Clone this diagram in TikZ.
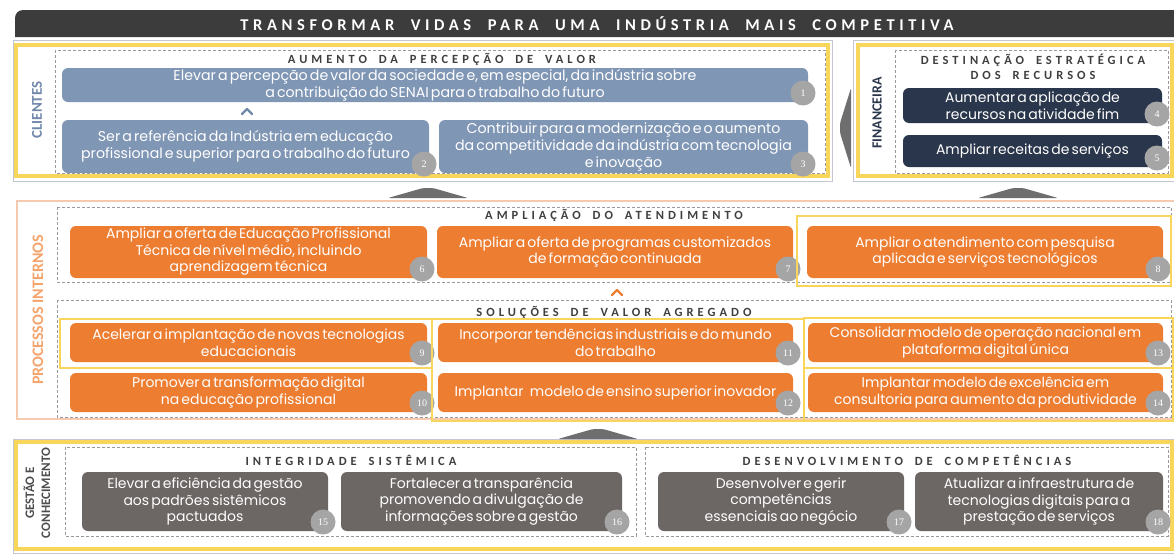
\documentclass[tikz,border=0pt]{standalone}
\usepackage{fontspec}
\setmainfont{Poppins}
\newfontfamily\hfont{Carlito}
\newfontfamily\nfont{Liberation Serif}
\definecolor{bannerc}{HTML}{3C3C3C}
\definecolor{cblue}{HTML}{8096B5}
\definecolor{clabel}{HTML}{7289AC}
\definecolor{navy}{HTML}{2A364B}
\definecolor{orng}{HTML}{ED7D31}
\definecolor{plabel}{HTML}{F4A46C}
\definecolor{pborder}{HTML}{F5CBB0}
\definecolor{ggray}{HTML}{6C6664}
\definecolor{glabel}{HTML}{4D4D4D}
\definecolor{numgray}{HTML}{A5A5A5}
\definecolor{hlyellow}{HTML}{F8D55B}
\definecolor{dashgray}{HTML}{9A9A9A}
\definecolor{titlegray}{HTML}{3F3F3F}
\definecolor{outergray}{HTML}{C3C8D0}
\definecolor{arrgray}{HTML}{6E6E6E}
\newcommand\ws{\hspace{0.95em}}
\newcommand\bws{\hspace{1.0em}}
\newcommand\tightsp{\spaceskip 0.15em\relax}
\newcommand\goal[8]{%
  \node[#6, minimum width={#4-#2}, minimum height={#5-#3}] (#1) at ({(#2+#4)/2},{(#3+#5)/2}) {#7};
  \node[numc] (#1n) at ({#4-5},{#5-9}) {#8};
}
\begin{document}
\begin{tikzpicture}[x=1pt,y=-1pt,
  goalbox/.style={rounded corners=6pt, inner sep=0pt, align=center, text=white, font=\fontsize{14}{16.5}\selectfont\tightsp},
  blueb/.style={goalbox, fill=cblue, font=\fontsize{14.2}{17}\selectfont\tightsp},
  navyb/.style={goalbox, fill=navy},
  orangeb/.style={goalbox, fill=orng},
  grayb/.style={goalbox, fill=ggray},
  numc/.style={circle, fill=numgray, text=white, inner sep=0pt, minimum size=25pt, font=\nfont\fontsize{10}{10}\selectfont},
  sectitle/.style={font=\hfont\bfseries\fontsize{12.5}{15}\selectfont\addfontfeature{LetterSpace=32}, text=titlegray, inner sep=0pt, align=center},
  hl/.style={draw=hlyellow, line width=2.5pt},
  hlthick/.style={draw=hlyellow, line width=3.5pt},
  dashbox/.style={draw=dashgray, dash pattern=on 3pt off 2pt, line width=0.8pt},
  vlabel/.style={rotate=90, font=\hfont\bfseries\fontsize{15}{15}\selectfont, inner sep=0pt, align=center},
  uparrow/.style={fill=arrgray, rounded corners=2pt},
  chev/.style={line width=2.2pt, line cap=round, line join=round}
]
\useasboundingbox (0,0) rectangle (1174,555);
\fill[white] (0,0) rectangle (1174,555);
% banner
\fill[bannerc] (15,37) [rounded corners=8pt]-- (15,10) [sharp corners]-- (1180,10) -- (1180,37) -- cycle;
\node[font=\hfont\bfseries\fontsize{16.5}{18}\selectfont\addfontfeature{LetterSpace=28}, text=white, inner sep=0pt] (title) at (597,24) {TRANSFORMAR\bws VIDAS\bws PARA\bws UMA\bws INDÚSTRIA\bws MAIS\bws COMPETITIVA};
% section frames
\draw[outergray, line width=1pt] (13,40) rectangle (832,181);
\draw[outergray, line width=1pt] (853,40) rectangle (1180,181);
\draw[pborder, line width=1.2pt] (17,201) rectangle (1180,419);
\draw[outergray, line width=1pt] (13,439) rectangle (1180,553);
\draw[hlthick] (16,45) rectangle (828,176);
\draw[hlthick] (858,45) rectangle (1172,176);
\draw[hlthick] (16,442) rectangle (1172,549);
% dashed groups
\draw[dashbox] (55,50) rectangle (825,173);
\draw[dashbox] (895,50) rectangle (1168,173);
\draw[dashbox] (57,207) rectangle (1171,282);
\draw[dashbox] (57,300) rectangle (1171,417);
\draw[dashbox] (65,447) rectangle (636,536);
\draw[dashbox] (645,447) rectangle (1168,536);
% labels
\node[vlabel, text=clabel] (lcli) at (37,110) {CLIENTES};
\node[vlabel, text=navy, font=\hfont\bfseries\fontsize{14}{14}\selectfont] (lfin) at (877,113) {FINANCEIRA};
\node[vlabel, text=plabel, font=\hfont\bfseries\fontsize{16}{16}\selectfont] (lproc) at (38,310) {PROCESSOS INTERNOS};
\node[vlabel, text=glabel, font=\hfont\bfseries\fontsize{13}{16}\selectfont] (lges) at (37,493) {GESTÃO E\\CONHECIMENTO};
% titles
\node[sectitle] (t1) at (442,59) {AUMENTO\ws DA\ws PERCEPÇÃO\ws DE\ws VALOR};
\node[sectitle] (t2) at (1033,67) {DESTINAÇÃO\ws ESTRATÉGICA\\DOS\ws RECURSOS};
\node[sectitle] (t3) at (614,215) {AMPLIAÇÃO\ws DO\ws ATENDIMENTO};
\node[sectitle] (t4) at (614,312) {SOLUÇÕES\ws DE\ws VALOR\ws AGREGADO};
\node[sectitle] (t5) at (351,460) {INTEGRIDADE\ws SISTÊMICA};
\node[sectitle] (t6) at (907,460) {DESENVOLVIMENTO\ws DE\ws COMPETÊNCIAS};
% goals
\goal{g1}{62}{68}{808}{102}{blueb}{Elevar a percepção de valor da sociedade e, em especial, da indústria sobre\\a contribuição do SENAI para o trabalho do futuro}{1}
\goal{g2}{62}{120}{429}{173}{blueb}{Ser a referência da Indústria em educação\\profissional e superior para o trabalho do futuro}{2}
\goal{g3}{439}{120}{808}{173}{blueb}{Contribuir para a modernização e o aumento\\da competitividade da indústria com tecnologia\\e inovação}{3}
\goal{g4}{903}{88}{1162}{123}{navyb}{Aumentar a aplicação de\\recursos na atividade fim}{4}
\goal{g5}{903}{135}{1162}{167}{navyb}{Ampliar receitas de serviços}{5}
\goal{g6}{70}{226}{427}{278}{orangeb}{Ampliar a oferta de Educação Profissional\\Técnica de nível médio, incluindo\\aprendizagem técnica}{6}
\goal{g7}{437}{226}{793}{278}{orangeb}{Ampliar a oferta de programas customizados\\de formação continuada}{7}
\goal{g8}{807}{226}{1163}{278}{orangeb}{Ampliar o atendimento com pesquisa\\aplicada e serviços tecnológicos}{8}
\goal{g9}{70}{323}{427}{362}{orangeb}{Acelerar a implantação de novas tecnologias\\educacionais}{9}
\goal{g11}{438}{323}{793}{362}{orangeb}{Incorporar tendências industriais e do mundo\\do trabalho}{11}
\goal{g13}{808}{323}{1163}{362}{orangeb}{Consolidar modelo de operação nacional em\\plataforma digital única}{13}
\goal{g10}{70}{373}{427}{412}{orangeb}{Promover a transformação digital\\na educação profissional}{10}
\goal{g12}{438}{373}{793}{412}{orangeb}{Implantar\hspace{0.45em}modelo de ensino superior inovador}{12}
\goal{g14}{808}{373}{1163}{412}{orangeb}{Implantar modelo de excelência em\\consultoria para aumento da produtividade}{14}
\goal{g15}{82}{472}{328}{531}{grayb}{Elevar a eficiência da gestão\\aos padrões sistêmicos\\pactuados}{15}
\goal{g16}{341}{472}{622}{531}{grayb}{Fortalecer a transparência\\promovendo a divulgação de\\informações sobre a gestão}{16}
\goal{g17}{658}{472}{904}{531}{grayb}{Desenvolver e gerir\\competências\\essenciais ao negócio}{17}
\goal{g18}{915}{472}{1163}{531}{grayb}{Atualizar a infraestrutura de\\tecnologias digitais para a\\prestação de serviços}{18}
% highlights
\draw[hl] (797,216) rectangle (1171,286);
\draw[hl] (60,319) rectangle (432,368);
\draw[hl] (432,319) rectangle (804,421);
\draw[hl] (804,318) rectangle (1173,368);
\draw[hl] (804,368) rectangle (1173,421);
% arrows
\fill[uparrow] (388,198) -- (423,188) -- (433,188) -- (468,198) -- cycle;
\fill[uparrow] (978,198) -- (1013,188) -- (1023,188) -- (1058,198) -- cycle;
\fill[uparrow] (558,439) -- (593,429) -- (603,429) -- (638,439) -- cycle;
\fill[uparrow] (851,88) -- (840,123) -- (840,133) -- (851,168) -- cycle;
\draw[chev, clabel] (242,114) -- (247,109) -- (252,114);
\draw[chev, orng] (612,295) -- (617,290) -- (622,295);
\end{tikzpicture}
\end{document}
